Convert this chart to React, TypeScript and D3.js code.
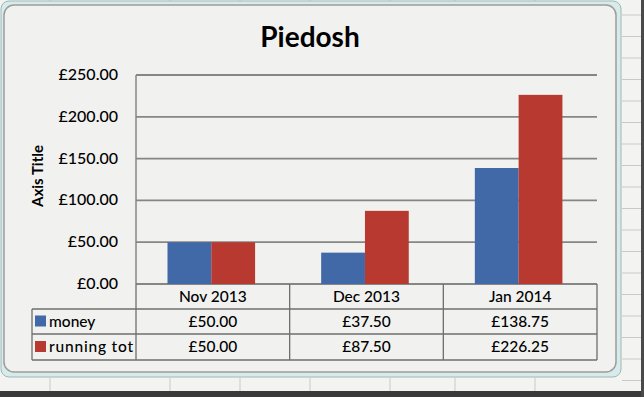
import * as d3 from "d3";
import { useEffect, useRef } from "react";

const months = ["Nov 2013", "Dec 2013", "Jan 2014"];
const seriesNames = ["money", "running tot"];
const money = [50, 37.5, 138.75];
const runningTot = [50, 87.5, 226.25];
const yTicks = [0, 50, 100, 150, 200, 250];
const colors = ["#4169a7", "#b8392f"];

export default function App() {
  const ref = useRef<SVGSVGElement>(null);

  useEffect(() => {
    const width = 644;
    const height = 397;
    const svg = d3.select(ref.current);
    svg.selectAll("*").remove();
    svg.attr("width", width).attr("height", height);

    const font = "Lato, 'Open Sans', sans-serif";

    // spreadsheet behind the chart
    svg.append("rect").attr("width", width).attr("height", height).attr("fill", "#f3f3f1");
    const sheet = svg.append("g").attr("stroke", "#c9c9c9").attr("stroke-width", 1);
    [50, 170, 240, 310, 390, 455, 535].forEach((gx) =>
      sheet.append("line").attr("x1", gx).attr("x2", gx).attr("y1", 0).attr("y2", 5)
    );
    [50, 170, 240, 310, 390, 455, 535].forEach((gx) =>
      sheet.append("line").attr("x1", gx).attr("x2", gx).attr("y1", 378).attr("y2", 391)
    );
    for (let gy = 15; gy < 391; gy += 21.5) {
      sheet.append("line").attr("x1", 622).attr("x2", 641).attr("y1", gy).attr("y2", gy);
    }
    // selection frame
    svg
      .append("rect")
      .attr("x", 1)
      .attr("y", 1)
      .attr("width", 620)
      .attr("height", 376)
      .attr("rx", 8)
      .attr("fill", "#d7ecea")
      .attr("stroke", "#9fb8b6");
    // chart area
    svg
      .append("rect")
      .attr("x", 4)
      .attr("y", 5)
      .attr("width", 612)
      .attr("height", 367)
      .attr("rx", 10)
      .attr("fill", "#f1f1ef")
      .attr("stroke", "#9c9c9c")
      .attr("stroke-width", 1.5);
    // dark frame edges of screenshot
    svg.append("rect").attr("x", 0).attr("y", 391).attr("width", width).attr("height", 6).attr("fill", "#3a3a3a");
    svg.append("rect").attr("x", 641).attr("y", 0).attr("width", 3).attr("height", height).attr("fill", "#4a4a4a");

    const x = d3.scaleBand().domain(months).range([136, 597]);
    const x1 = d3
      .scaleBand()
      .domain(seriesNames)
      .range([x.bandwidth() * 0.205, x.bandwidth() * 0.775]);
    const y = d3.scaleLinear().domain([0, 250]).range([284, 75]);
    const fmt = (v: number) => "£" + d3.format(".2f")(v);

    // title
    svg
      .append("text")
      .attr("x", 310)
      .attr("y", 47)
      .attr("text-anchor", "middle")
      .attr("font-family", font)
      .attr("font-weight", "bold")
      .attr("font-size", 28)
      .attr("fill", "#000")
      .text("Piedosh");

    // axis title
    svg
      .append("text")
      .attr("transform", "translate(43,176) rotate(-90)")
      .attr("text-anchor", "middle")
      .attr("font-family", font)
      .attr("font-weight", "bold")
      .attr("font-size", 15)
      .attr("fill", "#000")
      .text("Axis Title");

    // gridlines and ticks
    svg
      .append("g")
      .selectAll("line")
      .data(yTicks)
      .join("line")
      .attr("x1", 136)
      .attr("x2", 597)
      .attr("y1", (d) => y(d))
      .attr("y2", (d) => y(d))
      .attr("stroke", "#868686")
      .attr("stroke-width", 1.8);
    svg
      .append("g")
      .selectAll("text")
      .data(yTicks)
      .join("text")
      .attr("x", 118)
      .attr("y", (d) => y(d) + 5)
      .attr("text-anchor", "end")
      .attr("font-family", font)
      .attr("font-size", 16)
      .attr("font-weight", 500)
      .attr("fill", "#000")
      .text((d) => fmt(d));
    svg
      .append("line")
      .attr("x1", 136)
      .attr("x2", 136)
      .attr("y1", y(250))
      .attr("y2", y(0))
      .attr("stroke", "#868686")
      .attr("stroke-width", 1.5);

    // bars
    const series = [money, runningTot];
    const groups = svg
      .append("g")
      .selectAll("g")
      .data(months)
      .join("g")
      .attr("transform", (d) => `translate(${x(d)},0)`);
    groups
      .selectAll("rect")
      .data((_, i) => series.map((s, k) => ({ name: seriesNames[k], value: s[i], k })))
      .join("rect")
      .attr("x", (d) => x1(d.name)!)
      .attr("width", x1.bandwidth())
      .attr("y", (d) => y(d.value))
      .attr("height", (d) => y(0) - y(d.value))
      .attr("fill", (d) => colors[d.k]);

    // data table
    const rowH = [284, 309, 334, 360];
    const tbl = svg.append("g").attr("stroke", "#6e6e6e").attr("stroke-width", 1.3);
    [309, 334, 360].forEach((ly) =>
      tbl.append("line").attr("x1", 32).attr("x2", 597).attr("y1", ly).attr("y2", ly)
    );
    tbl.append("line").attr("x1", 32).attr("x2", 32).attr("y1", 309).attr("y2", 360);
    [136, ...months.map((m) => x(m)! + x.bandwidth())].forEach((lx) =>
      tbl.append("line").attr("x1", lx).attr("x2", lx).attr("y1", 284).attr("y2", 360)
    );

    const txt = svg
      .append("g")
      .attr("font-family", font)
      .attr("font-size", 15.5)
      .attr("font-weight", 500)
      .attr("fill", "#000");
    months.forEach((m) => {
      const cx = x(m)! + x.bandwidth() / 2;
      txt.append("text").attr("x", cx).attr("y", (rowH[0] + rowH[1]) / 2 + 5).attr("text-anchor", "middle").text(m);
    });
    series.forEach((s, k) => {
      const top = rowH[k + 1];
      const bot = rowH[k + 2];
      svg
        .append("rect")
        .attr("x", 35)
        .attr("y", (top + bot) / 2 - 6)
        .attr("width", 11)
        .attr("height", 11)
        .attr("fill", colors[k]);
      txt
        .append("text")
        .attr("x", 49)
        .attr("y", (top + bot) / 2 + 5)
        .attr("textLength", k === 1 ? 84 : null)
        .text(seriesNames[k]);
      s.forEach((v, i) => {
        const cx = x(months[i])! + x.bandwidth() / 2;
        txt.append("text").attr("x", cx).attr("y", (top + bot) / 2 + 5).attr("text-anchor", "middle").text(fmt(v));
      });
    });
  }, []);

  return (
    <div style={{ position: "absolute", left: 0, top: 0 }}>
      <svg ref={ref} style={{ display: "block" }}></svg>
    </div>
  );
}
